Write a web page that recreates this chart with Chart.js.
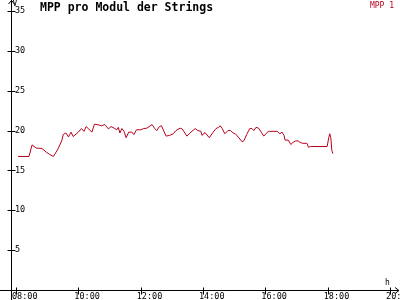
<!DOCTYPE html>
<html><head><meta charset="utf-8">
<script src="https://cdn.jsdelivr.net/npm/chart.js@4/dist/chart.umd.min.js"></script>
<style>html,body{margin:0;padding:0;background:#fff}#wrap{width:400px;height:300px;position:relative}</style>
</head><body><div id="wrap"><canvas id="c" width="400" height="300"></canvas></div>
<script>
const chartTitle = 'MPP pro Modul der Strings';
const seriesName = 'MPP 1';
const yUnit = 'V';
const xUnit = 'h';
const times = ['08:04','08:25','08:31','08:39','08:50','08:58','09:05','09:12','09:21','09:28','09:31','09:36','09:41','09:46','09:50','10:00','10:06','10:11','10:15','10:20','10:26','10:31','10:36','10:45','10:51','10:58','11:03','11:09','11:14','11:17','11:20','11:24','11:28','11:32','11:37','11:43','11:47','11:52','12:00','12:06','12:12','12:22','12:27','12:31','12:36','12:40','12:49','12:56','13:03','13:08','13:16','13:20','13:29','13:35','13:45','13:50','13:56','13:58','14:04','14:12','14:19','14:25','14:30','14:33','14:37','14:42','14:48','14:53','14:58','15:02','15:09','15:15','15:19','15:24','15:30','15:34','15:38','15:42','15:47','15:52','15:57','16:04','16:08','16:23','16:28','16:32','16:36','16:38','16:44','16:49','16:53','16:58','17:03','17:07','17:12','17:20','17:23','17:27','17:59','18:02','18:04','18:06','18:08','18:10'];
const values = [16.75,16.75,18.2,17.8,17.75,17.3,17.0,16.75,17.7,18.7,19.5,19.7,19.2,19.8,19.25,19.8,20.25,19.9,20.5,20.2,19.8,20.8,20.75,20.6,20.75,20.2,20.5,20.3,20.1,20.4,19.7,20.25,19.9,19.1,19.8,19.8,19.5,20.1,20.1,20.25,20.3,20.75,20.25,20.0,20.5,20.6,19.3,19.4,19.6,20.0,20.3,20.2,19.3,19.7,20.25,20.0,19.9,19.4,19.75,19.1,19.75,20.25,20.4,20.6,20.25,19.6,20.0,20.0,19.7,19.6,19.1,18.6,18.75,19.5,20.25,20.25,20.0,20.4,20.3,19.8,19.3,19.8,19.9,19.9,19.6,19.8,19.4,18.8,18.8,18.25,18.5,18.7,18.7,18.5,18.4,18.4,17.9,18.0,18.0,19.1,19.6,19.1,17.5,17.1];
const xTickLabels = ['08:00','10:00','12:00','14:00','16:00','18:00','20:00'];
const yTickValues = [5,10,15,20,25,30,35];

const toH = s => { const [h,m] = s.split(':').map(Number); return h + m/60; };
const fmt = v => { const h = Math.floor(v+1e-6), m = Math.round((v-h)*60); return String(h).padStart(2,'0')+':'+String(m).padStart(2,'0'); };
const points = times.map((t,i) => ({x: toH(t), y: values[i]}));
const MONO = '"DejaVu Sans Mono", "Liberation Mono", monospace';
const RED = '#b8001c';

const axesPlugin = {
  id: 'axesDeco',
  afterDraw(chart) {
    const ctx = chart.ctx, xs = chart.scales.x, ys = chart.scales.y;
    const ax = Math.round(xs.left) + 0.5;
    const ay = Math.round(ys.getPixelForValue(0)) + 0.5;
    ctx.save();
    ctx.strokeStyle = '#000'; ctx.lineWidth = 1;
    ctx.beginPath();
    ctx.moveTo(0, ay); ctx.lineTo(399, ay);
    ctx.moveTo(ax, 0); ctx.lineTo(ax, 300);
    ctx.moveTo(ax-3, 4); ctx.lineTo(ax, 0.5); ctx.lineTo(ax+3, 4);
    ctx.moveTo(395, ay-3); ctx.lineTo(399, ay); ctx.lineTo(395, ay+3);
    ys.ticks.forEach(t => { const p = Math.round(ys.getPixelForValue(t.value))+0.5; ctx.moveTo(ax-4, p); ctx.lineTo(ax+4, p); });
    xs.ticks.forEach(t => { const p = Math.round(xs.getPixelForValue(t.value))+0.5; ctx.moveTo(p, ay-3); ctx.lineTo(p, ay+4); });
    ctx.stroke();
    ctx.fillStyle = '#000';
    ctx.font = '8px ' + MONO;
    ctx.textBaseline = 'alphabetic';
    ctx.textAlign = 'left';
    ctx.fillText(yUnit, ax + 1, 6);
    ctx.fillText(xUnit, 385, ay - 6);
    ctx.font = 'bold 11.5px ' + MONO;
    ctx.fillText(chartTitle, 40, 11);
    ctx.font = '8px ' + MONO;
    ctx.fillStyle = RED;
    ctx.textAlign = 'right';
    ctx.fillText(chart.data.datasets[0].label, 394, 8);
    ctx.restore();
  }
};

new Chart(document.getElementById('c'), {
  type: 'line',
  data: { datasets: [{ label: seriesName, data: points, borderColor: RED, borderWidth: 1, pointRadius: 0, tension: 0, fill: false }] },
  options: {
    responsive: false, animation: false,
    layout: { padding: { top: 1, right: 0, bottom: 0, left: 0 } },
    plugins: { legend: { display: false }, title: { display: false }, tooltip: { enabled: false } },
    scales: {
      x: {
        type: 'linear', min: 7.84, max: 20.32,
        grid: { display: false, drawTicks: false }, border: { display: false },
        afterBuildTicks: s => { s.ticks = xTickLabels.map(l => ({ value: toH(l) })); },
        ticks: { callback: v => fmt(v), font: { family: MONO, size: 8.5 }, color: '#000', align: 'start', labelOffset: -4, padding: 2, maxRotation: 0, autoSkip: false },
        afterFit: s => { s.height = 10; s.paddingLeft = 0; s.paddingRight = 0; }
      },
      y: {
        min: 0, max: 36.25,
        grid: { display: false, drawTicks: false }, border: { display: false },
        afterBuildTicks: s => { s.ticks = yTickValues.map(v => ({ value: v })); },
        ticks: { mirror: true, padding: 4, font: { family: MONO, size: 8.5 }, color: '#000' },
        afterFit: s => { s.width = 11; s.paddingTop = 0; s.paddingBottom = 0; }
      }
    }
  },
  plugins: [axesPlugin]
});
</script></body></html>
